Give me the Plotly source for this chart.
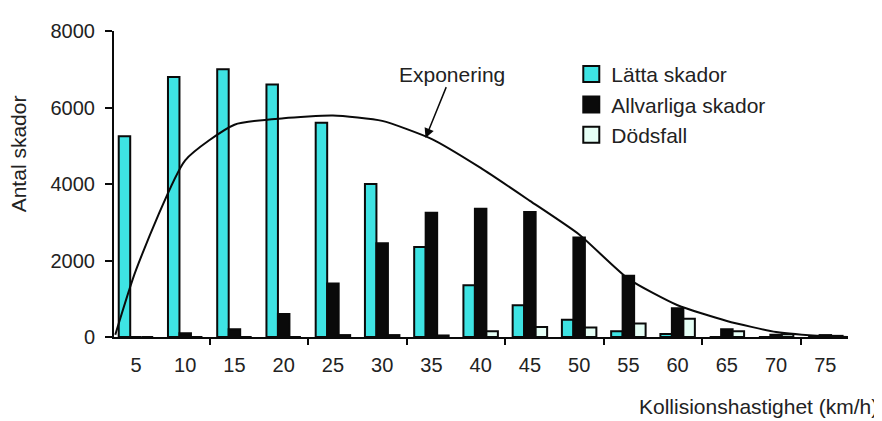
import plotly.graph_objects as go

# Data
speeds = [5, 10, 15, 20, 25, 30, 35, 40, 45, 50, 55, 60, 65, 70, 75]
tick_labels = [str(s) for s in speeds]
latta = [5250, 6800, 7000, 6600, 5600, 4000, 2350, 1350, 830, 450, 150, 80, 0, 0, 0]
allvarliga = [0, 100, 200, 600, 1400, 2450, 3250, 3350, 3270, 2600, 1600, 750, 200, 60, 50]
dodsfall = [0, 0, 0, 0, 50, 50, 40, 150, 260, 250, 350, 480, 150, 70, 30]

expo_x = [2.9, 5, 10, 15, 20, 25, 30, 35, 40, 45, 50, 55, 60, 65, 70, 75, 77.3]
expo_y = [60, 1750, 4620, 5550, 5720, 5790, 5650, 5180, 4420, 3560, 2680, 1520, 830, 420, 130, 20, 0]

minor_ticks = [12.5, 22.5, 32.5, 42.5, 52.5, 62.5, 72.5]

CYAN = "#3EE3E3"
BLACK = "#0a0a0a"
MINT = "#E6FFF6"
FONT = "Liberation Sans, Arial, sans-serif"
TXT = "#222222"

fig = go.Figure()
for name, vals, col in [("Lätta skador", latta, CYAN),
                        ("Allvarliga skador", allvarliga, BLACK),
                        ("Dödsfall", dodsfall, MINT)]:
    fig.add_trace(go.Bar(x=speeds, y=vals, name=name, showlegend=False,
                         marker=dict(color=col, line=dict(color=BLACK, width=2)),
                         hoverinfo="skip"))

fig.add_trace(go.Scatter(x=expo_x, y=expo_y, mode="lines", name="Exponering",
                         line=dict(color=BLACK, width=2, shape="spline", smoothing=0.55),
                         showlegend=False, hoverinfo="skip"))

for i, (name, col) in enumerate([("Lätta skador", CYAN), ("Allvarliga skador", BLACK),
                                 ("Dödsfall", MINT)]):
    fig.add_trace(go.Scatter(x=[None], y=[None], mode="markers", name=name,
                             marker=dict(symbol="square", size=16, color=col,
                                         line=dict(color=BLACK, width=2))))

# page body has an 8px margin: figure sized to fit the 882x421 window
fig.update_layout(
    width=874, height=413,
    margin=dict(l=106, r=34, t=21, b=84),
    paper_bgcolor="white", plot_bgcolor="white",
    barmode="group", bargap=0.3, bargroupgap=0,
    font=dict(family=FONT, color=TXT, size=20),
    legend=dict(x=0.623, y=0.925, xanchor="left", yanchor="top",
                font=dict(size=21, color=TXT), bgcolor="rgba(0,0,0,0)"),
    xaxis=dict(range=[2.77, 77.3], tickmode="array", tickvals=speeds, ticktext=tick_labels,
               ticks="", showgrid=False, zeroline=False, showline=True,
               linecolor=BLACK, linewidth=2, ticklabelstandoff=9,
               tickfont=dict(size=20, color=TXT),
               minor=dict(tickmode="array", tickvals=minor_ticks, ticks="outside",
                          ticklen=6, tickwidth=2, tickcolor=BLACK, showgrid=False)),
    yaxis=dict(range=[0, 8000], tickvals=[0, 2000, 4000, 6000, 8000],
               ticks="outside", ticklen=7, tickwidth=2, tickcolor=BLACK,
               showgrid=False, zeroline=False, showline=True,
               linecolor=BLACK, linewidth=2, ticklabelstandoff=6,
               tickfont=dict(size=20, color=TXT)),
)

fig.add_annotation(x=34.4, y=5200, xref="x", yref="y", text="Exponering",
                   showarrow=True, arrowhead=2, arrowsize=1.3, arrowwidth=1.5,
                   arrowcolor=BLACK, ax=26, ay=-64, font=dict(size=21, color=TXT))
fig.add_annotation(x=0.0, y=0.597, xref="paper", yref="paper", text="Antal skador",
                   textangle=-90, showarrow=False, xanchor="center", yanchor="middle",
                   xshift=-96, font=dict(size=21, color=TXT))
fig.add_annotation(x=1.0436, y=-0.227, xref="paper", yref="paper",
                   text="Kollisionshastighet (km/h)", showarrow=False,
                   xanchor="right", yanchor="middle", font=dict(size=21, color=TXT))

fig.write_html("out.html")
